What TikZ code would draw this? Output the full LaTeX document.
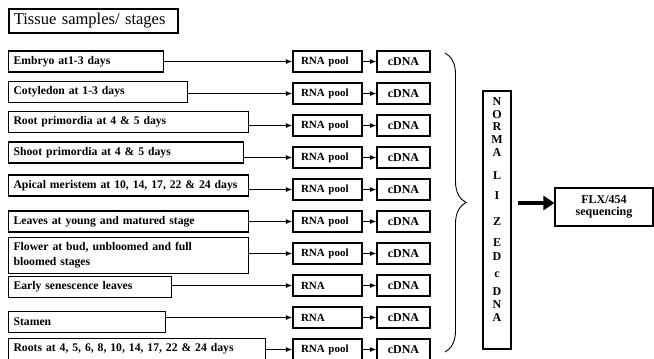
\documentclass[tikz,border=0pt]{standalone}
\usepackage{fontspec}
\setmainfont{Liberation Serif}
\usetikzlibrary{arrows.meta,decorations.pathreplacing}

\tikzset{
  sample/.style={draw,line width=1.1pt,anchor=west,align=left,inner xsep=5pt,inner ysep=5pt,
    minimum height=21pt,font=\bfseries\fontsize{11.7}{15}\selectfont},
  pool/.style={draw,line width=1.1pt,minimum height=21pt,inner xsep=8pt,text width=53pt,align=left,
    font=\bfseries\fontsize{11}{12}\selectfont},
  cdna/.style={draw,line width=1.1pt,minimum width=53pt,minimum height=21pt,inner sep=0pt,
    font=\bfseries\fontsize{12}{12}\selectfont},
  letter/.style={inner sep=0pt,font=\bfseries\fontsize{12}{12}\selectfont},
  link/.style={line width=1.5pt,-{Latex[length=6.5pt,width=5pt]}},
  fat/.style={line width=4.5pt,-{Triangle[length=11pt,width=14pt]}}
}

\begin{document}
\begin{tikzpicture}[x=1pt,y=-1pt,line cap=butt]
  \useasboundingbox (0,0) rectangle (654,359);
  \node[draw,line width=1.8pt,anchor=west,align=left,text width=159pt,inner xsep=5pt,
    minimum height=24pt,font=\fontsize{16.5}{18}\selectfont] (title) at (8,21) {Tissue samples/ stages};
  % samples -> RNA -> cDNA
  \foreach \i/\w/\y/\r/\txt in {
      1/155/61.5/RNA pool/{Embryo at1-3 days},
      2/179/92/RNA pool/{Cotyledon at 1-3 days},
      3/240/122/RNA pool/{Root primordia at 4 \& 5 days},
      4/235/152.5/RNA pool/{Shoot primordia at 4 \& 5 days},
      5/240/185.5/RNA pool/{Apical meristem at 10, 14, 17, 22 \& 24 days},
      6/240/221.5/RNA pool/{Leaves at young and matured stage},
      7/240/255.5/RNA pool/{Flower at bud, unbloomed and full\\bloomed stages},
      8/163/287/RNA/{Early senescence leaves},
      9/157/322/RNA/{Stamen},
      10/257/349/RNA pool/{Roots at 4, 5, 6, 8, 10, 14, 17, 22 \& 24 days}}{
    \pgfmathsetmacro\tw{\w-10}
    \pgfmathsetmacro\ry{61.5+32*(\i-1)}
    \node[sample,text width=\tw pt] (s\i) at (8,\y) {\txt};
    \node[pool] (r\i) at (327.5,\ry) {\r};
    \node[cdna] (c\i) at (403.5,\ry) {cDNA};
    \draw[link] (s\i.east |- r\i) -- (r\i);
    \draw[link] (r\i) -- (c\i);
  }
  \draw[line width=0.9pt,decorate,decoration={brace,amplitude=21pt}] (445,53) -- (445,352);
  \node[draw,line width=1.1pt,minimum width=28pt,minimum height=258pt] (norm) at (497,220) {};
  \foreach \l/\y [count=\k] in {N/102,O/115,R/127,M/140,A/153,L/176,I/196,Z/222,E/243,D/257,c/275,D/292,N/305,A/318}
    \node[letter] (n\k) at (norm.center |- 0,\y) {\l};
  \node[draw,line width=1.1pt,minimum width=98pt,minimum height=38pt,align=center,
    font=\bfseries\fontsize{12}{12}\selectfont] (flx) at (604,207) {FLX/454\\sequencing};
  \draw[fat,shorten <=6pt] ([yshift=4pt]norm.east |- flx.west) -- ([yshift=4pt]flx.west);
\end{tikzpicture}
\end{document}
